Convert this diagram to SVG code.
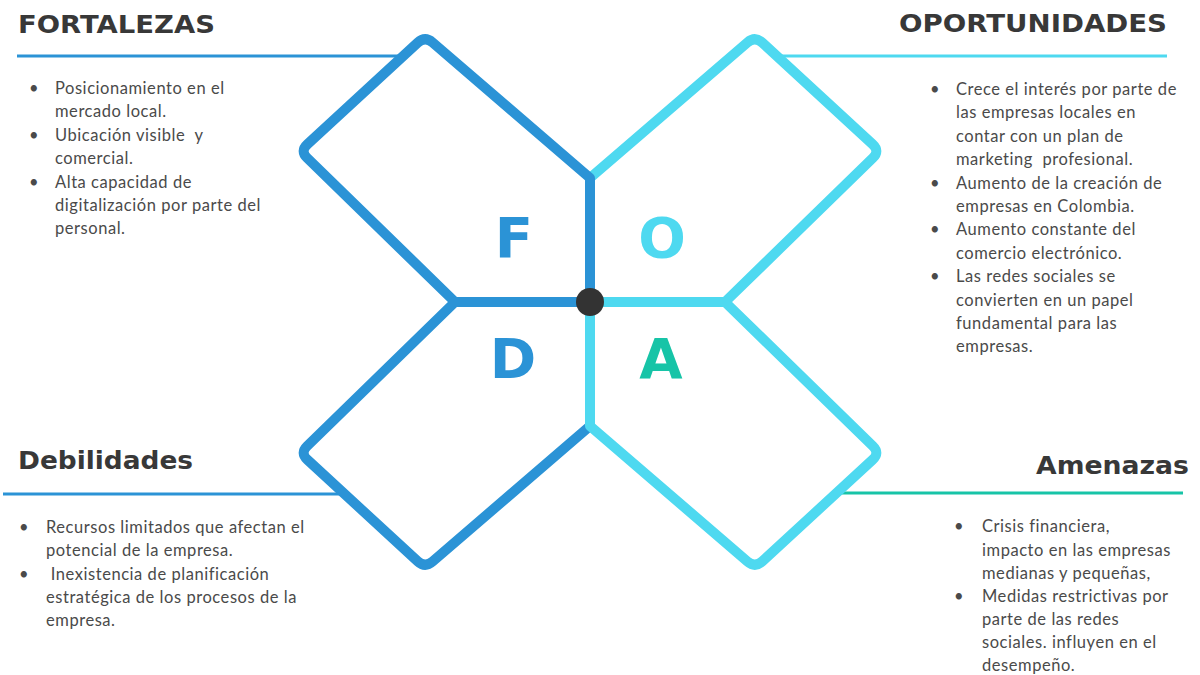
<svg xmlns="http://www.w3.org/2000/svg" width="1200" height="675" viewBox="0 0 1200 675">
<style>
.bg{fill:#ffffff}
.head{font-family:"DejaVu Sans","Liberation Sans",sans-serif;font-weight:bold;font-size:25px;fill:#383838}
.body{font-family:Lato,"Liberation Sans",sans-serif;font-size:16.5px;letter-spacing:0.55px;fill:#4a4a4a}
.shape{fill:none;stroke-width:10;stroke-linejoin:round;stroke-linecap:round}
.blue{stroke:#2B93D6}
.cyan{stroke:#4ED9F0}
.teal{stroke:#17C4A7}
.hline{stroke-width:3;fill:none}
.letter{font-family:"DejaVu Sans","Liberation Sans",sans-serif;font-weight:bold;font-size:56px;text-anchor:middle}
</style>
<rect class="bg" x="0" y="0" width="1200" height="675"/>
<g id="connectors">
<line class="hline blue" x1="17" y1="56" x2="400" y2="56"/>
<line class="hline cyan" x1="780" y1="56" x2="1167" y2="56"/>
<line class="hline blue" x1="3" y1="494" x2="342" y2="494"/>
<line class="hline teal" x1="838" y1="493" x2="1183" y2="493"/>
</g>
<g id="node-O"><path class="shape cyan" d="M590,302 L590,178 L747.4,42.5 Q755,36 762.4,42.8 L872.6,144.2 Q880,151 872.8,158 L725,302 Z"/>
<text class="letter" x="662" y="257" fill="#4ED9F0">O</text></g>
<g id="node-F"><path class="shape blue" d="M590,302 L590,178 L432.6,42.5 Q425,36 417.6,42.8 L307.4,144.2 Q300,151 307.2,158 L455,302 Z"/>
<text class="letter" x="514" y="257" fill="#2B93D6">F</text></g>
<g id="node-D"><path class="shape blue" d="M590,302 L590,426 L432.6,561.5 Q425,568 417.6,561.2 L307.4,459.8 Q300,453 307.2,446 L455,302 Z"/>
<text class="letter" x="513" y="378" fill="#2B93D6">D</text></g>
<g id="node-A"><path class="shape cyan" d="M590,302 L590,426 L747.4,561.5 Q755,568 762.4,561.2 L872.6,459.8 Q880,453 872.8,446 L725,302 Z"/>
<text class="letter" x="661" y="378" fill="#17C4A7">A</text></g>
<g id="center"><circle cx="590" cy="302" r="14" fill="#333333"/></g>
<g id="fortalezas">
<text class="head" x="18" y="33" textLength="197" lengthAdjust="spacingAndGlyphs">FORTALEZAS</text>
<text class="body" x="29" y="94">•</text>
<text class="body" x="29" y="140.8">•</text>
<text class="body" x="29" y="187.6">•</text>
<text class="body" x="55" y="94">Posicionamiento en el</text>
<text class="body" x="55" y="117.4">mercado local.</text>
<text class="body" x="55" y="140.8" xml:space="preserve">Ubicación visible  y</text>
<text class="body" x="55" y="164.2">comercial.</text>
<text class="body" x="55" y="187.6">Alta capacidad de</text>
<text class="body" x="55" y="211">digitalización por parte del</text>
<text class="body" x="55" y="234.4">personal.</text>
</g>
<g id="oportunidades">
<text class="head" x="1167" y="32" text-anchor="end" textLength="268" lengthAdjust="spacingAndGlyphs">OPORTUNIDADES</text>
<text class="body" x="930" y="95">•</text>
<text class="body" x="930" y="188.6">•</text>
<text class="body" x="930" y="235.4">•</text>
<text class="body" x="930" y="282.2">•</text>
<text class="body" x="956" y="95">Crece el interés por parte de</text>
<text class="body" x="956" y="118.4">las empresas locales en</text>
<text class="body" x="956" y="141.8">contar con un plan de</text>
<text class="body" x="956" y="165.2" xml:space="preserve">marketing  profesional.</text>
<text class="body" x="956" y="188.6">Aumento de la creación de</text>
<text class="body" x="956" y="212">empresas en Colombia.</text>
<text class="body" x="956" y="235.4">Aumento constante del</text>
<text class="body" x="956" y="258.8">comercio electrónico.</text>
<text class="body" x="956" y="282.2">Las redes sociales se</text>
<text class="body" x="956" y="305.6">convierten en un papel</text>
<text class="body" x="956" y="329">fundamental para las</text>
<text class="body" x="956" y="352.4">empresas.</text>
</g>
<g id="debilidades">
<text class="head" x="18" y="469" textLength="175" lengthAdjust="spacingAndGlyphs">Debilidades</text>
<text class="body" x="19" y="532.7">•</text>
<text class="body" x="19" y="579.5">•</text>
<text class="body" x="46" y="532.7">Recursos limitados que afectan el</text>
<text class="body" x="46" y="556.1">potencial de la empresa.</text>
<text class="body" x="46" y="579.5" xml:space="preserve"> Inexistencia de planificación</text>
<text class="body" x="46" y="602.9">estratégica de los procesos de la</text>
<text class="body" x="46" y="626.3">empresa.</text>
</g>
<g id="amenazas">
<text class="head" x="1189" y="474" text-anchor="end" textLength="153" lengthAdjust="spacingAndGlyphs">Amenazas</text>
<text class="body" x="954" y="532.3">•</text>
<text class="body" x="954" y="602">•</text>
<text class="body" x="982" y="532.3">Crisis financiera,</text>
<text class="body" x="982" y="555.5">impacto en las empresas</text>
<text class="body" x="982" y="578.7">medianas y pequeñas,</text>
<text class="body" x="982" y="602">Medidas restrictivas por</text>
<text class="body" x="982" y="625.2">parte de las redes</text>
<text class="body" x="982" y="648.4">sociales. influyen en el</text>
<text class="body" x="982" y="671">desempeño.</text>
</g>
</svg>
